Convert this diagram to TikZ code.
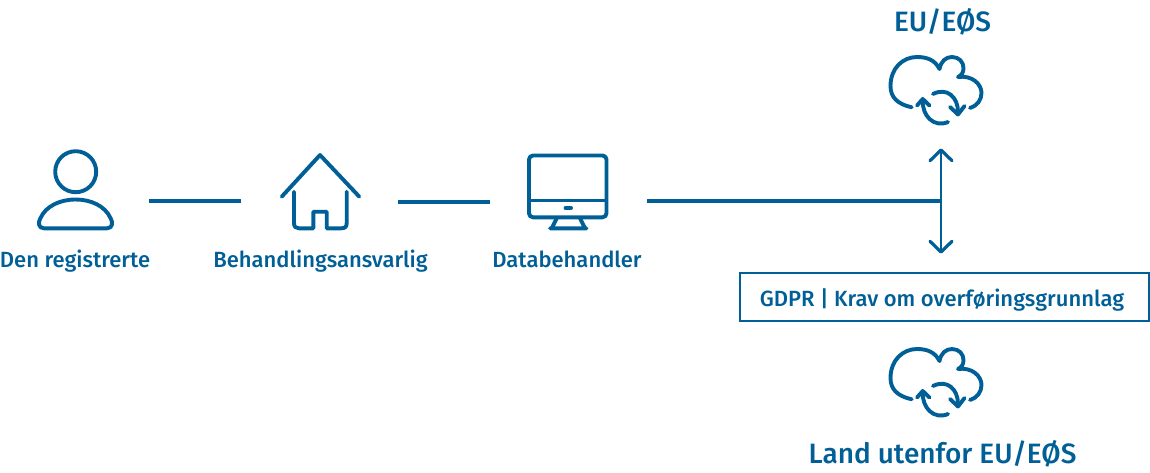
\documentclass[tikz,border=0pt]{standalone}
\usepackage{fontspec}
\setmainfont{Fira Sans}[BoldFont={Fira Sans Medium}]
\definecolor{bl}{HTML}{005F96}
\tikzset{
 ic/.style={draw=bl,line width=3.9pt,line cap=round,line join=round},
 ln/.style={draw=bl,line width=3.2pt},
 lab/.style={text=bl,font=\bfseries\fontsize{22}{26}\selectfont,inner sep=0pt},
 big/.style={text=bl,font=\bfseries\fontsize{28}{33}\selectfont,inner sep=0pt},
 cloudicon/.pic={
  \draw[ic] (911.7,107.3) .. controls (897,104) and (890.5,97) .. (890.5,86) .. controls (890.5,68) and (903,57) .. (917,57) .. controls (927,57) and (935,60) .. (939.5,69) .. controls (941,61) and (946,57) .. (952,57) .. controls (959,57) and (963.5,62) .. (963.5,68) .. controls (963.5,72) and (962,75) .. (958,77) .. controls (972,75) and (981.5,84) .. (981.5,93) .. controls (981.5,100) and (977,106) .. (970,108);
  \draw[ic] (933,94) .. controls (947,87) and (958,97) .. (958,112);
  \draw[ic] (950,107) -- (958,114.5) -- (964.5,106);
  \draw[ic] (948,122) .. controls (934,128) and (922,116) .. (922.7,100);
  \draw[ic] (917,105.5) -- (922.7,99) -- (929.5,105.5);
 }
}
\begin{document}
\begin{tikzpicture}[x=1pt,y=-1pt]
\useasboundingbox (0,0) rectangle (1150,472);
% person
\draw[ic] (75.7,171.7) circle (20.5);
\draw[ic] (44,228.3) .. controls (38,228.3) and (38,222) .. (40.5,218) .. controls (46,206) and (60,199.5) .. (75.7,199.5) .. controls (91,199.5) and (105,206) .. (110.5,218) .. controls (113,222) and (113,228.3) .. (107,228.3) -- cycle;
% house
\draw[ic] (281.7,196.7) -- (320,155) -- (359.3,196.7);
\draw[ic] (294,191.7) -- (294,223) .. controls (294,227) and (296,228.3) .. (299,228.3) -- (313.3,228.3) -- (313.3,211.7) -- (326.7,211.7) -- (326.7,228.3) -- (341,228.3) .. controls (345,228.3) and (346.7,227) .. (346.7,223) -- (346.7,191.7);
% monitor
\draw[ic,rounded corners=4pt] (529,155.5) rectangle (606.5,217.3);
\draw[ic,line cap=butt,line width=3pt] (529,200) -- (606.5,200);
\draw[ic] (565.5,208) -- (571,208);
\draw[ic] (556.7,218.3) -- (551.7,228.3) (580,218.3) -- (585,228.3) (550,228.3) -- (586.5,228.3);
% clouds
\pic {cloudicon};
\pic[yshift=-292pt] {cloudicon};
% labels
\node[lab,anchor=base] (ds) at (75,267) {Den registrerte};
\node[lab,anchor=base] (ba) at (320.5,267) {Behandlingsansvarlig};
\node[lab,anchor=base] (db) at (567,267) {Databehandler};
\node[big,anchor=base] (eu) at (942.5,31) {EU/EØS};
\node[big,anchor=base] (land) at (942.5,463) {Land utenfor EU/EØS};
\node[draw=bl,line width=1.6pt,minimum width=409pt,minimum height=48pt] (gdpr) at (944.5,297) {};
\node[lab,anchor=base] (gdprtext) at (942,306) {GDPR | Krav om overføringsgrunnlag};
% connectors
\coordinate (a1) at (149,201); \coordinate (a2) at (241,201);
\coordinate (b1) at (398,202); \coordinate (b2) at (490,202);
\coordinate (c1) at (647,201); \coordinate (c2) at (941,201);
\coordinate (up) at (941,150); \coordinate (dn) at (941,252);
\draw[ln] (a1) -- (a2);
\draw[ln] (b1) -- (b2);
\draw[ln] (c1) -- (c2);
\draw[ln,line width=2.8pt] (up) -- (dn);
\draw[ic,line width=3.2pt] (930,160.7) -- (up) -- (952,160.7);
\draw[ic,line width=3.2pt] (930,241.3) -- (dn) -- (952,241.3);
\end{tikzpicture}
\end{document}
